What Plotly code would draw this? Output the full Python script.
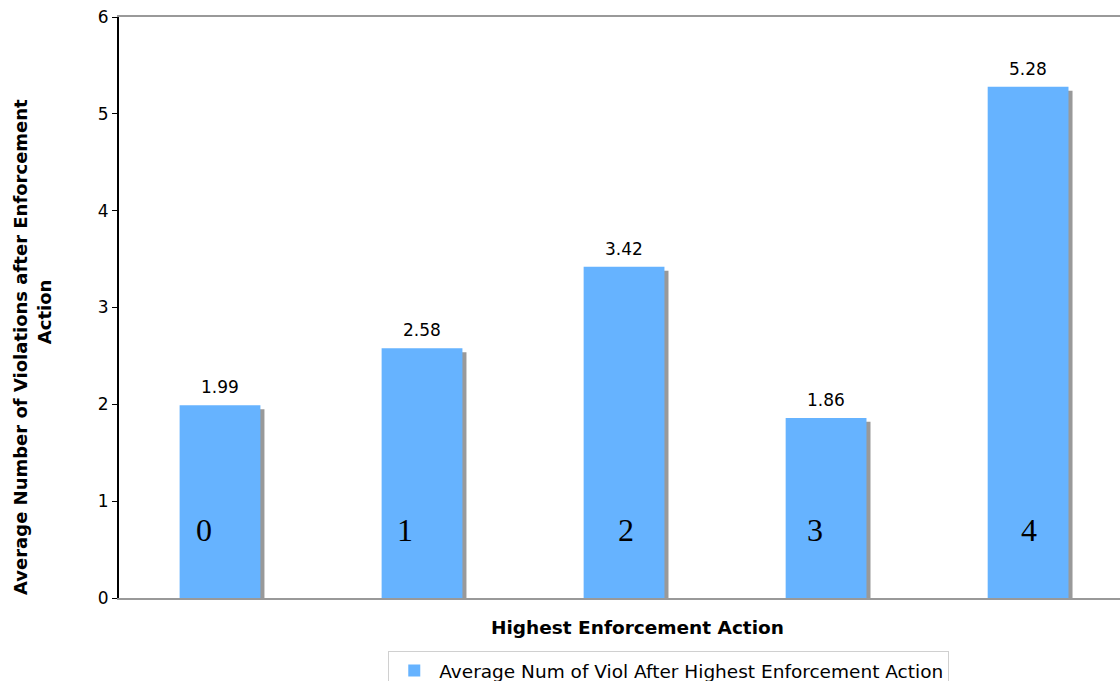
import plotly.graph_objects as go

categories = [0, 1, 2, 3, 4]
category_labels = ["0", "1", "2", "3", "4"]
values = [1.99, 2.58, 3.42, 1.86, 5.28]
series_name = "Average Num of Viol After Highest Enforcement Action"
y_title_lines = ["Average Number of Violations after Enforcement", "Action"]
x_title = "Highest Enforcement Action"

BAR_W = 0.4
SHADOW_DX = 0.02   # in category units
SHADOW_DY = 0.041  # in value units
label_xshift = [-16, -17, 2, -11, 1]  # hand placement of in-bar labels (px)

fig = go.Figure()
fig.add_trace(go.Bar(
    x=categories, y=[v - SHADOW_DY for v in values],
    width=BAR_W, offset=-BAR_W / 2 + SHADOW_DX,
    marker=dict(color="#999999", line=dict(width=0)),
    showlegend=False, hoverinfo="skip",
))
fig.add_trace(go.Bar(
    x=categories, y=values, name=series_name,
    width=BAR_W, offset=-BAR_W / 2,
    marker=dict(color="#66B3FF", line=dict(width=0)),
    showlegend=True,
))

for c, lab, v, dx in zip(categories, category_labels, values, label_xshift):
    fig.add_annotation(x=c, y=0.7, text=lab, showarrow=False, xshift=dx,
                       font=dict(family="Liberation Serif", size=32, color="black"))
    fig.add_annotation(x=c, y=v, text=f"{v:.2f}", showarrow=False, yshift=18,
                       font=dict(family="DejaVu Sans", size=17, color="black"))

# y-axis title (two lines, placed like the original)
fig.add_annotation(xref="paper", yref="paper", x=0, y=0.432, xshift=-99,
                   xanchor="center", yanchor="middle", textangle=-90, showarrow=False,
                   text=f"<b>{y_title_lines[0]}</b>", font=dict(size=18, color="black"))
fig.add_annotation(xref="paper", yref="paper", x=0, y=0.492, xshift=-75,
                   xanchor="center", yanchor="middle", textangle=-90, showarrow=False,
                   text=f"<b>{y_title_lines[1]}</b>", font=dict(size=18, color="black"))
# x-axis title
fig.add_annotation(xref="paper", yref="paper", x=0.5, y=0, xshift=18, yshift=-29,
                   xanchor="center", yanchor="middle", showarrow=False,
                   text=f"<b>{x_title}</b>", font=dict(size=18.5, color="black"))

fig.update_layout(
    width=1120, height=681,
    margin=dict(l=119, r=0, t=17, b=83, autoexpand=False),
    paper_bgcolor="white", plot_bgcolor="white",
    barmode="overlay",
    font=dict(family="DejaVu Sans", size=16, color="black"),
    showlegend=True,
    legend=dict(orientation="h", x=0.269, xanchor="left", y=-0.0912, yanchor="top",
                bordercolor="#d0d0d0", borderwidth=1, font=dict(size=18.5),
                itemwidth=40),
    xaxis=dict(range=[-0.5, 4.455], showticklabels=False, ticks="",
               showgrid=False, zeroline=False, showline=True, linecolor="#999999",
               linewidth=2, mirror=True),
    yaxis=dict(range=[0, 6], dtick=1, showgrid=False, zeroline=False,
               showline=True, linecolor="black", linewidth=2,
               ticks="outside", ticklen=5, tickcolor="black",
               tickfont=dict(size=17)),
)

fig.write_html("out.html")
